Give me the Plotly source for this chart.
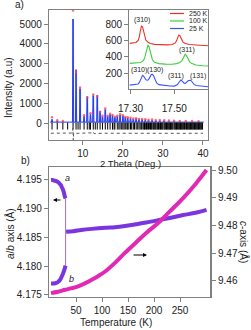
import plotly.graph_objects as go

W, H = 251, 330
def PX(x): return x / W
def PY(y): return 1 - y / H

# ---------------- panel a : powder pattern ----------------
pk_pos  = [2.3, 3.6, 5.0, 7.55, 8.3, 9.3, 10.3, 11.1, 11.9, 12.6, 13.6, 14.3, 14.9, 15.6, 16.2, 16.8,
           17.4, 18.0, 18.6, 19.3, 20.0, 20.6, 21.2, 21.9, 22.6, 23.3, 24.0, 24.8, 25.6, 26.4, 27.3,
           28.2, 29.2, 30.3, 31.5, 32.8, 34.2, 35.7, 37.3, 38.9]
pk_calc = [200, 120, 100, 5250, 2700, 1750, 350, 1350, 450, 1400, 1400, 600, 350, 700, 350, 450,
           400, 300, 350, 420, 380, 300, 280, 260, 220, 230, 200, 200, 180, 160, 170,
           150, 140, 130, 120, 115, 105, 100, 95, 90]
pk_obs  = [300, 150, 120, 5680, 2600, 1800, 400, 1300, 500, 1450, 1380, 580, 380, 750, 380, 480,
           420, 330, 380, 450, 400, 320, 300, 280, 240, 250, 220, 220, 200, 180, 190,
           170, 160, 150, 140, 130, 120, 110, 110, 100]
bg_level = 60

bragg_pos = [2.3, 3.6, 5.0, 6.2, 7.55, 8.3, 8.8, 9.3, 10.3, 11.1, 11.6, 11.9, 12.6, 13.1, 13.6, 14.3,
             14.9, 15.6, 16.2, 16.8, 17.4, 17.8, 18.0, 18.6, 19.0, 19.3, 19.7, 20.0, 20.3, 20.6, 21.0,
             21.2, 21.5, 21.9, 22.2, 22.6, 22.9, 23.3, 23.6, 24.0, 24.3, 24.6, 24.8, 25.2, 25.4, 25.6,
             25.9, 26.1, 26.4, 26.6, 26.9, 27.1, 27.3, 27.6, 27.8, 28.0, 28.2, 28.5, 28.7, 28.9, 29.2,
             29.4, 29.6, 29.8, 30.0, 30.3, 30.5, 30.7, 30.9, 31.1, 31.3, 31.5, 31.7, 31.9, 32.1, 32.3,
             32.5, 32.8, 33.0, 33.2, 33.4, 33.6, 33.8, 34.0, 34.2, 34.4, 34.6, 34.8, 35.0, 35.2, 35.4,
             35.7, 35.9, 36.1, 36.3, 36.5, 36.7, 36.9, 37.1, 37.3, 37.5, 37.7, 37.9, 38.1, 38.3, 38.5,
             38.7, 38.9, 39.1, 39.3, 39.5, 39.7, 39.9]
bragg_level = -140

diff_x = [2.0, 4.0, 6.0, 7.4, 7.5, 7.6, 7.7, 9.0, 11.0, 12.4, 12.6, 12.8, 15.0, 18.0, 20.0, 25.0, 30.0, 35.0, 40.0]
diff_y = [-500, -510, -500, -490, -250, -850, -500, -505, -495, -480, -430, -520, -500, -505, -495, -500, -500, -505, -500]

# ---------------- inset ----------------
r_x = [17.296, 17.31, 17.325, 17.335, 17.34, 17.345, 17.35, 17.355, 17.36, 17.365, 17.37, 17.38, 17.39, 17.41,
       17.44, 17.47, 17.49, 17.50, 17.505, 17.51, 17.515, 17.52, 17.525, 17.53, 17.535, 17.54, 17.55, 17.57,
       17.60, 17.63, 17.655]
r_y = [564, 566, 575, 600, 640, 715, 775, 765, 700, 640, 605, 578, 562, 552, 547, 546, 550, 558, 570, 595,
       635, 665, 660, 630, 600, 580, 562, 550, 544, 540, 535]
g_x = [17.296, 17.31, 17.33, 17.345, 17.355, 17.36, 17.365, 17.37, 17.375, 17.38, 17.385, 17.39, 17.395, 17.40,
       17.41, 17.43, 17.46, 17.49, 17.51, 17.525, 17.535, 17.54, 17.545, 17.55, 17.555, 17.56, 17.565, 17.57,
       17.58, 17.60, 17.63, 17.655]
g_y = [321, 322, 325, 332, 345, 360, 390, 450, 520, 545, 520, 455, 400, 365, 335, 318, 312, 310, 318, 332,
       355, 385, 420, 432, 420, 390, 360, 340, 318, 300, 292, 288]
b_x = [17.296, 17.31, 17.325, 17.335, 17.34, 17.345, 17.35, 17.355, 17.36, 17.365, 17.37, 17.375, 17.38, 17.385,
       17.39, 17.395, 17.40, 17.405, 17.41, 17.415, 17.42, 17.43, 17.45, 17.48, 17.50, 17.51, 17.515, 17.52,
       17.525, 17.53, 17.535, 17.54, 17.545, 17.55, 17.555, 17.56, 17.565, 17.57, 17.575, 17.58, 17.585, 17.59,
       17.60, 17.62, 17.64, 17.655]
b_y = [56, 58, 62, 70, 85, 110, 150, 176, 165, 140, 122, 115, 118, 135, 165, 185, 188, 172, 140, 105, 80, 62,
       52, 46, 44, 50, 62, 85, 110, 117, 108, 92, 80, 78, 85, 100, 112, 117, 115, 100, 80, 65, 52, 44, 38, 35]
inset_names = ["250 K", "100 K", "25 K"]

# ---------------- panel b ----------------
a_T = [2, 5, 8, 12, 16, 19, 21, 23, 25, 26.5, 28, 29, 30]
a_v = [4.1950, 4.1950, 4.1949, 4.1948, 4.1946, 4.1943, 4.1941, 4.1937, 4.1933, 4.1929, 4.1923, 4.1920, 4.1918]
b_T = [2, 5, 8, 12, 16, 19, 21, 23, 25, 26.5, 28, 29, 30]
b_v = [4.1770, 4.1770, 4.1770, 4.1771, 4.1773, 4.1776, 4.1779, 4.1783, 4.1787, 4.1791, 4.1795, 4.1798, 4.1801]
h_T = [31, 45, 60, 80, 106, 125, 144, 165, 185, 208, 230, 256, 280, 301]
h_v = [4.1860, 4.1861, 4.1863, 4.1865, 4.1867, 4.1868, 4.1870, 4.1873, 4.1876, 4.1880, 4.1884, 4.1889, 4.1893, 4.1898]
c_T = [2, 15, 29, 40, 54, 67, 80, 93, 106, 125, 144, 165, 185, 208, 230, 256, 280, 301]
c_v = [9.4556, 9.4561, 9.4568, 9.4573, 9.4580, 9.4591, 9.4604, 9.4618, 9.4634, 9.4665, 9.4701, 9.4738,
       9.4773, 9.4809, 9.4850, 9.4899, 9.4950, 9.5000]

FONT = "Liberation Sans"
TXT = "#222222"
AX = "#808080"
PURPLE = "#7b35e0"
MAGENTA = "#e02ab4"

fig = go.Figure()

# calculated profile outline built from the peak table
calc_x, calc_y = [1.8], [bg_level]
for p, h in zip(pk_pos, pk_calc):
    calc_x += [p - 0.15, p, p + 0.15]
    calc_y += [bg_level, h, bg_level]
calc_x.append(40.2); calc_y.append(bg_level)

fig.add_trace(go.Bar(x=pk_pos, y=pk_calc, width=0.5, marker=dict(color="rgba(120,145,240,0.8)", line_width=0),
                     xaxis="x", yaxis="y", showlegend=False))
fig.add_trace(go.Scatter(x=calc_x, y=calc_y, mode="lines", line=dict(color="#2a3cf0", width=1),
                         xaxis="x", yaxis="y", showlegend=False))
fig.add_trace(go.Scatter(x=pk_pos, y=pk_obs, mode="markers", marker=dict(color="#ff4a4a", size=2.5, opacity=0.8),
                         xaxis="x", yaxis="y", showlegend=False))
fig.add_trace(go.Scatter(x=bragg_pos, y=[bragg_level] * len(bragg_pos), mode="markers",
                         marker=dict(symbol="line-ns", size=5, line=dict(color="black", width=1)),
                         xaxis="x", yaxis="y", showlegend=False))
fig.add_trace(go.Scatter(x=diff_x, y=diff_y, mode="lines", line=dict(color="#555555", width=1, dash="dot"),
                         xaxis="x", yaxis="y", showlegend=False))

# inset
for xs, ys, col in [(r_x, r_y, "#e8322a"), (g_x, g_y, "#3ccf3c"), (b_x, b_y, "#3a55ff")]:
    fig.add_trace(go.Scatter(x=xs, y=ys, mode="lines", line=dict(color=col, width=1.1),
                             xaxis="x2", yaxis="y2", showlegend=False))

# panel b
fig.add_trace(go.Scatter(x=[a_T[-1], b_T[-1]], y=[a_v[-1], b_v[-1]], mode="lines",
                         line=dict(color="#9a6cf0", width=1), xaxis="x3", yaxis="y3", showlegend=False))
for xs, ys in [(a_T, a_v), (b_T, b_v), (h_T, h_v)]:
    fig.add_trace(go.Scatter(x=xs, y=ys, mode="lines", line=dict(color=PURPLE, width=4, shape="spline"),
                             xaxis="x3", yaxis="y3", showlegend=False))
fig.add_trace(go.Scatter(x=c_T, y=c_v, mode="lines", line=dict(color=MAGENTA, width=4, shape="spline"),
                         xaxis="x3", yaxis="y4", showlegend=False))

tickfont = dict(family=FONT, size=10, color=TXT)
common = dict(showline=True, linecolor=AX, linewidth=1.3, ticks="outside", ticklen=4, tickcolor=AX,
              tickwidth=1, showgrid=False, zeroline=False, tickfont=tickfont, automargin=False)

fig.update_layout(
    template="none",
    width=W, height=H, margin=dict(l=0, r=0, t=0, b=0, pad=0),
    paper_bgcolor="white", plot_bgcolor="rgba(0,0,0,0)", barmode="overlay",
    font=dict(family=FONT, size=10, color=TXT),
    xaxis=dict(domain=[PX(49), PX(208)], range=[1.54, 41.26], anchor="y", mirror=True,
               tickvals=[10, 20, 30, 40], **common),
    yaxis=dict(domain=[PY(140), PY(9.5)], range=[-841, 5730], anchor="x", mirror=True,
               tickvals=[0, 1000, 2000, 3000, 4000, 5000], **common),
    xaxis2=dict(domain=[PX(129.3), PX(208)], range=[17.2945, 17.654], anchor="y2", mirror=True,
                tickvals=[17.30, 17.50], tickformat=".2f", ticklabelstandoff=6, **common),
    yaxis2=dict(domain=[PY(89.3), PY(9.5)], range=[5, 977], anchor="x2", mirror=True,
                tickvals=[200, 400, 600, 800], **common),
    xaxis3=dict(domain=[PX(49), PX(210)], range=[-1.92, 307.7], anchor="y3", mirror=True,
                tickvals=[50, 100, 150, 200, 250], **common),
    yaxis3=dict(domain=[PY(297), PY(167)], range=[4.17465, 4.19726], anchor="x3",
                tickvals=[4.175, 4.180, 4.185, 4.190, 4.195], tickformat=".3f", **common),
    yaxis4=dict(range=[9.4542, 9.5011], overlaying="y3", side="right", anchor="x3",
                tickvals=[9.46, 9.47, 9.48, 9.49, 9.50], tickformat=".2f", **common),
)
fig.update_layout(yaxis4_linewidth=2)

ann = []
def text(x, y, s, size=10, angle=0, xanchor="center", italic=False):
    ann.append(dict(x=PX(x), y=PY(y), xref="paper", yref="paper", text=s, showarrow=False,
                    textangle=angle, xanchor=xanchor, yanchor="middle",
                    font=dict(family=FONT, size=size, color=TXT, style="italic" if italic else "normal")))

text(19, 5, "a)")
text(25, 161, "b)")
text(9, 88, "Intensity (a.u)", angle=-90)
text(130, 163, "2 Theta (Deg.)", size=9.5)
text(10, 234, "<i>a</i>/<i>b</i> axis (Å)", angle=-90)
text(244, 242, "<i>c</i>-axis (Å)", angle=90)
text(116, 322, "Temperature (K)")
text(67, 178, "a", size=9, italic=True)
text(71, 279, "b", size=9, italic=True)
# inset peak labels
text(141.7, 20, "(310)", size=7)
text(186.7, 50, "(311)", size=7)
text(138.5, 70, "(310)", size=7)
text(154.5, 70, "(130)", size=7)
text(176, 76, "(311)", size=7)
text(198, 76, "(131)", size=7)
# legend
legend_cols = ["#e8322a", "#3ccf3c", "#3a55ff"]
legend_py = [13.5, 21, 28.5]
shapes = []
for name, col, yy in zip(inset_names, legend_cols, legend_py):
    shapes.append(dict(type="line", xref="paper", yref="paper", x0=PX(170), x1=PX(184), y0=PY(yy), y1=PY(yy),
                       line=dict(color=col, width=1.2)))
    text(187, yy, name, size=7, xanchor="left")

# arrows
ann.append(dict(x=PX(53), y=PY(200), xref="paper", yref="paper", ax=9, ay=0, showarrow=True,
                arrowhead=2, arrowsize=0.8, arrowwidth=1, arrowcolor="black", text=""))
ann.append(dict(x=PX(147), y=PY(255), xref="paper", yref="paper", ax=-15, ay=0, showarrow=True,
                arrowhead=2, arrowsize=0.8, arrowwidth=1, arrowcolor="black", text=""))

fig.update_layout(annotations=ann, shapes=shapes)
fig.write_html("out.html", config={"displayModeBar": False},
               post_script="document.body.style.margin='0';document.body.style.padding='0';")
